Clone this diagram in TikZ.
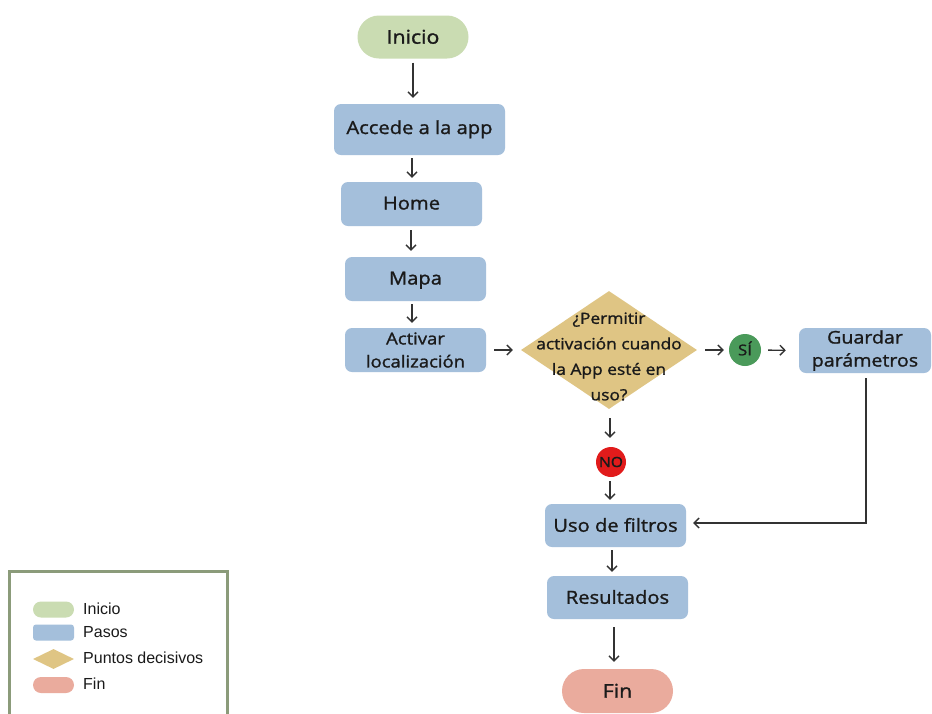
\documentclass[tikz,border=0pt]{standalone}
\usepackage{fontspec}
\setmainfont{Open Sans}[FakeBold=1.3,FakeStretch=1.12]
\newfontfamily\legfont{Liberation Sans}
\usetikzlibrary{shapes.geometric,arrows.meta}
\definecolor{cgreen}{HTML}{CADCB2}
\definecolor{cblue}{HTML}{A4BFDB}
\definecolor{ctan}{HTML}{DFC584}
\definecolor{cpink}{HTML}{EAAB9D}
\definecolor{csi}{HTML}{4A9A5A}
\definecolor{cno}{HTML}{E11B1B}
\definecolor{cleg}{HTML}{8B9B7A}
\definecolor{cline}{HTML}{333333}
\definecolor{ctext}{HTML}{1A1A1A}
\begin{document}
\begin{tikzpicture}[x=1pt,y=-1pt,
  every node/.style={text=ctext},
  oneline/.style={text height=11pt,text depth=0pt},
  pill/.style={rounded corners=21.5pt,minimum height=43pt,inner sep=0pt,font=\fontsize{19}{23}\selectfont,text height=13.4pt,text depth=0pt},
  stepbox/.style={fill=cblue,rounded corners=7pt,inner sep=0pt,font=\fontsize{18}{23}\selectfont,align=center},
  flow/.style={draw=cline,line width=1.3pt,-{Straight Barb[length=5pt,width=10pt,line width=1.3pt]}},
  legtxt/.style={font=\legfont\fontsize{16}{18}\selectfont,anchor=west,inner sep=0pt}
]
\useasboundingbox (0,0) rectangle (932,713);
\fill[white] (0,0) rectangle (932,713);

% nodes
\node[pill,fill=cgreen,minimum width=111pt] (ini) at (413,37) {Inicio};
\node[stepbox,oneline,text height=9pt,minimum width=171pt,minimum height=51pt] (acc) at (419.5,129.5) {Accede a la app};
\node[stepbox,oneline,minimum width=141pt,minimum height=44pt] (home) at (411.5,204) {Home};
\node[stepbox,oneline,minimum width=141pt,minimum height=44pt] (mapa) at (415.5,279) {Mapa};
\node[stepbox,minimum width=141pt,minimum height=44pt,font=\fontsize{16.5}{23}\selectfont] (act) at (415.5,350) {Activar\\localización};
\node[diamond,fill=ctan,inner sep=0pt,minimum width=176pt,minimum height=118pt] (dec) at (609,350) {};
\node[align=center,font=\fontsize{15.5}{25.5}\selectfont] (dect) at (609,356.5) {¿Permitir\\activación cuando\\la App esté en\\uso?};
\node[circle,fill=csi,minimum size=32pt,inner sep=0pt,font=\fontsize{15}{18}\selectfont,text height=10.7pt,text depth=0pt] (si) at (745,350) {SÍ};
\node[stepbox,minimum width=132pt,minimum height=45pt,font=\fontsize{17.5}{23}\selectfont] (guar) at (865,350.5) {Guardar\\parámetros};
\node[circle,fill=cno,minimum size=30pt,inner sep=0pt,font=\fontsize{14}{16}\selectfont,text height=10pt,text depth=0pt] (no) at (611,462) {NO};
\node[stepbox,oneline,text height=12.5pt,minimum width=141pt,minimum height=43pt] (uso) at (615.5,525.5) {Uso de filtros};
\node[stepbox,oneline,text height=12.5pt,minimum width=141pt,minimum height=43pt] (res) at (617.5,597.5) {Resultados};
\node[pill,fill=cpink,minimum width=111pt,minimum height=44pt,rounded corners=22pt] (fin) at (617.5,691) {Fin};

% connectors
\draw[flow,shorten <=4pt,shorten >=6pt] (ini.south) -- ([xshift=-6.5pt]acc.north);
\draw[flow,shorten <=3pt,shorten >=4pt] ([xshift=-7.5pt]acc.south) -- ([xshift=0.5pt]home.north);
\draw[flow,shorten <=4pt,shorten >=6pt] ([xshift=-0.5pt]home.south) -- ([xshift=-4.5pt]mapa.north);
\draw[flow,shorten <=3pt,shorten >=5pt] ([xshift=-3.5pt]mapa.south) -- ([xshift=-3.5pt]act.north);
\draw[flow,shorten <=8pt,shorten >=8pt] (act.east) -- (dec.west);
\draw[flow,shorten <=8pt,shorten >=5pt] (dec.east) -- (si.west);
\draw[flow,shorten <=7pt,shorten >=13pt] (si.east) -- (guar.west);
\draw[flow,shorten <=9pt,shorten >=9pt] ([xshift=1pt]dec.south) -- ([xshift=-1pt]no.north);
\draw[flow,shorten <=4pt,shorten >=4pt] ([xshift=-1pt]no.south) -- ([xshift=-5.5pt]uso.north);
\draw[flow,shorten <=3pt,shorten >=4pt] ([xshift=-3.5pt]uso.south) -- ([xshift=-5.5pt]res.north);
\draw[flow,shorten <=8pt,shorten >=7pt] ([xshift=-3.5pt]res.south) -- ([xshift=-3.5pt]fin.north);
\draw[flow,shorten <=5pt,shorten >=7pt] ([xshift=1pt]guar.south) |- ([yshift=2.5pt]uso.east);

% legend
\draw[cleg,line width=3pt] (9,715) -- (9,571.5) -- (227,571.5) -- (227,715);
\node[pill,fill=cgreen,minimum width=41pt,minimum height=16pt,rounded corners=8pt] (lg1) at (53.5,609.5) {};
\node[legtxt] (lt1) at (83,609) {Inicio};
\node[fill=cblue,rounded corners=3pt,minimum width=41pt,minimum height=16pt,inner sep=0pt] (lg2) at (53.5,632.5) {};
\node[legtxt] (lt2) at (83,632) {Pasos};
\node[diamond,fill=ctan,inner sep=0pt,minimum width=41pt,minimum height=20pt] (lg3) at (53.5,659) {};
\node[legtxt] (lt3) at (83,658) {Puntos decisivos};
\node[pill,fill=cpink,minimum width=41pt,minimum height=16pt,rounded corners=8pt] (lg4) at (53.5,685) {};
\node[legtxt] (lt4) at (83,684) {Fin};
\end{tikzpicture}
\end{document}
